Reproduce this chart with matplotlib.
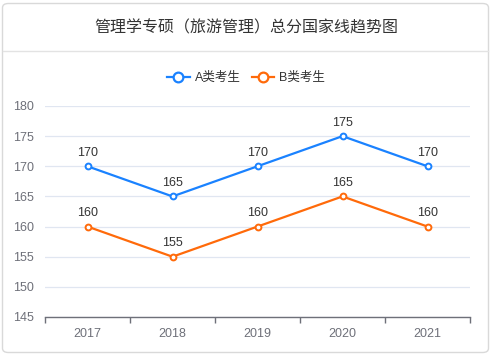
import matplotlib.pyplot as plt
from matplotlib.patches import FancyBboxPatch
from matplotlib.lines import Line2D

plt.rcParams['font.family'] = ['Liberation Sans', 'Noto Sans CJK SC', 'DejaVu Sans']

years = ['2017', '2018', '2019', '2020', '2021']
score_a = [170, 165, 170, 175, 170]
score_b = [160, 155, 160, 165, 160]
yticks = [145, 150, 155, 160, 165, 170, 175, 180]

blue = '#1a82ff'
orange = '#ff6a0a'

fig = plt.figure(figsize=(4.92, 3.55), dpi=100)
W, H = 492, 355

# card
card = FancyBboxPatch((2.5 / W, 2.5 / H), 486 / W, 349 / H,
                      boxstyle='round,pad=0,rounding_size=0.012',
                      transform=fig.transFigure, facecolor='white',
                      edgecolor='#d9d9d9', linewidth=1, zorder=-5)
fig.patches.append(card)
fig.add_artist(Line2D([3 / W, 488 / W], [1 - 51 / H, 1 - 51 / H],
                      color='#e3e3e3', linewidth=1, zorder=-4))
fig.text(0.5, 1 - 28 / H, '管理学专硕（旅游管理）总分国家线趋势图',
         ha='center', va='center', fontsize=11.5, color='#333333')

ax = fig.add_axes([45 / W, 38 / H, 425 / W, 211 / H])
ax.set_zorder(2)
ax.patch.set_alpha(0)
x = list(range(len(years)))
ax.plot(x, score_a, color=blue, lw=1.6, marker='o', ms=4.2,
        mfc='white', mec=blue, mew=1.4, zorder=3)
ax.plot(x, score_b, color=orange, lw=1.6, marker='o', ms=4.2,
        mfc='white', mec=orange, mew=1.4, zorder=3)
for xi, a, b in zip(x, score_a, score_b):
    ax.annotate(str(a), (xi, a), xytext=(0, 5.5), textcoords='offset points',
                ha='center', va='bottom', fontsize=9, color='#333333')
    ax.annotate(str(b), (xi, b), xytext=(0, 5.5), textcoords='offset points',
                ha='center', va='bottom', fontsize=9, color='#333333')

ax.set_xlim(-0.5, len(years) - 0.5)
ax.set_ylim(145, 180)
ax.set_yticks(yticks)
ax.set_xticks(x)
ax.set_xticklabels(years)
ax.set_xticks([i - 0.5 for i in range(len(years) + 1)], minor=True)
ax.tick_params(axis='x', which='major', length=0, pad=8, labelsize=9,
               labelcolor='#6e7079')
ax.tick_params(axis='x', which='minor', length=4, color='#6e7079', width=1)
ax.tick_params(axis='y', length=0, pad=8, labelsize=9, labelcolor='#6e7079')
ax.grid(axis='y', color='#e0e6f1', lw=0.9)
ax.set_axisbelow(True)
for s in ['top', 'right', 'left']:
    ax.spines[s].set_visible(False)
ax.spines['bottom'].set_color('#6e7079')
ax.spines['bottom'].set_linewidth(1)

handles = [Line2D([], [], color=blue, lw=1.6, marker='o', ms=7, mfc='white', mec=blue, mew=1.6),
           Line2D([], [], color=orange, lw=1.6, marker='o', ms=7, mfc='white', mec=orange, mew=1.6)]
fig.legend(handles, ['A类考生', 'B类考生'], loc='center', bbox_to_anchor=(0.5, 1 - 78 / H),
           ncol=2, frameon=False, fontsize=9, handlelength=1.8, handletextpad=0.4,
           columnspacing=0.9, labelcolor='#333333')

fig.savefig('out.png', dpi=100)
